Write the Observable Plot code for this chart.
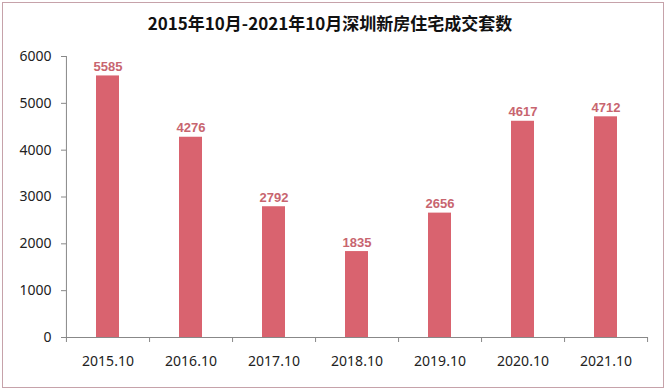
<!DOCTYPE html>
<html><head><meta charset="utf-8">
<script src="https://cdn.jsdelivr.net/npm/d3@7"></script>
<script src="https://cdn.jsdelivr.net/npm/@observablehq/plot@0.6"></script>
<style>
html,body{margin:0;padding:0;background:#fff;}
#wrap{position:relative;width:669px;height:392px;overflow:hidden;background:#fff;}
#border{position:absolute;left:2px;top:2px;width:662px;height:386px;border:1px solid #c6a2aa;box-sizing:border-box;}
#title{position:absolute;left:0;width:660px;top:13px;text-align:center;font-family:"Noto Sans CJK SC";font-weight:bold;font-size:17px;color:#111;line-height:20px;white-space:nowrap;}
#chart{position:absolute;left:0;top:0;}
</style></head>
<body>
<div id="wrap">
  <div id="chart"></div>
  <div id="title">2015年10月-2021年10月深圳新房住宅成交套数</div>
  <div id="border"></div>
</div>
<script>
const categories = ["2015.10","2016.10","2017.10","2018.10","2019.10","2020.10","2021.10"];
const values = [5585, 4276, 2792, 1835, 2656, 4617, 4712];
const yTicks = [0, 1000, 2000, 3000, 4000, 5000, 6000];

const data = categories.map((c, i) => ({cat: c, value: values[i]}));
const W = 669, H = 392, mL = 66, mR = 21, mT = 56, mB = 55;
const step = (W - mL - mR) / categories.length;

const chart = Plot.plot({
  width: W, height: H,
  marginTop: mT, marginBottom: mB, marginLeft: mL, marginRight: mR,
  style: {background: "transparent", fontFamily: "Noto Sans", fontSize: "14px", color: "#222"},
  x: {domain: categories, paddingInner: 0.72, paddingOuter: 0.36},
  y: {domain: [0, 6000]},
  marks: [
    Plot.barY(data, {x: "cat", y: "value", fill: "#d9636f"}),
    Plot.ruleY([0], {stroke: "#888"}),
    Plot.ruleX([categories[0]], {x: d => d, dx: -step / 2, y1: -107, y2: 6000, stroke: "#888"}),
    Plot.ruleX(categories, {x: d => d, dx: step / 2, y1: 0, y2: -107, stroke: "#888"}),
    Plot.axisY({ticks: yTicks, tickFormat: d => String(d), tickSize: 5, tickPadding: 10, stroke: "#888", fill: "#222", label: null, fontSize: 14}),
    Plot.axisX({tickSize: 0, tickPadding: 19, fill: "#222", label: null, fontSize: 14}),
    Plot.text(data, {x: "cat", y: "value", text: d => String(d.value), dy: -5, lineAnchor: "bottom",
      fill: "#c8656f", fontWeight: "bold", fontSize: 13, fontFamily: "Liberation Sans"})
  ]
});
document.getElementById("chart").appendChild(chart);
</script>
</body></html>
